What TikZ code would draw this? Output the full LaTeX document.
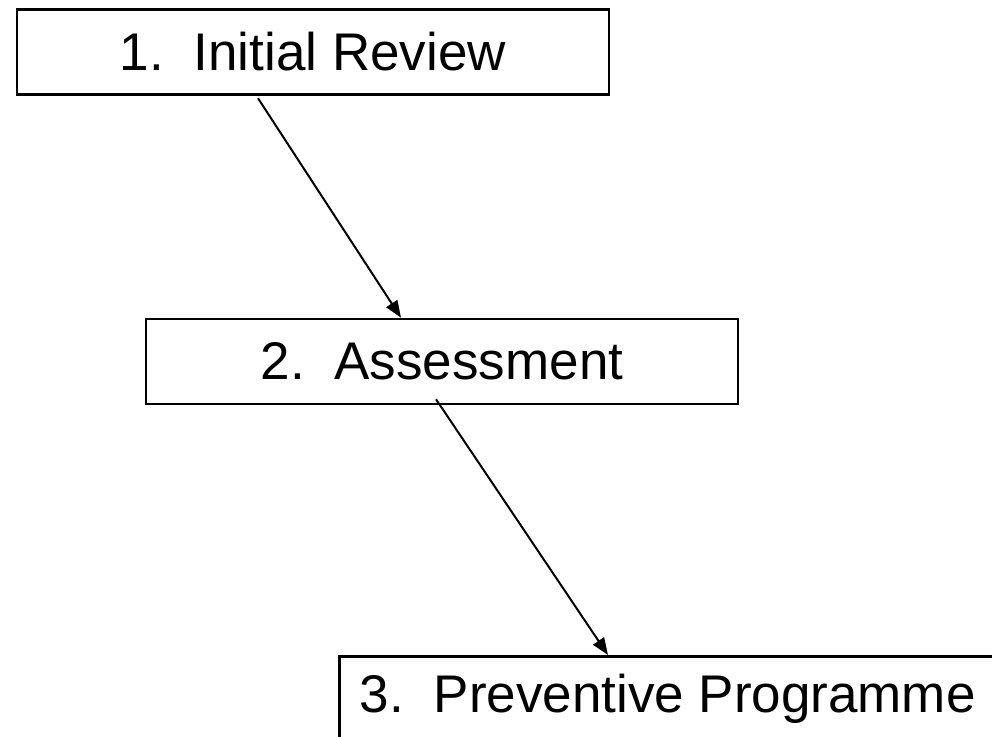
\documentclass[tikz,border=0pt]{standalone}
\usepackage{fontspec}
\setmainfont{Liberation Sans}
\usetikzlibrary{arrows.meta}
\tikzset{
  stepbox/.style={draw=black, line width=2.5pt, fill=white, inner sep=0pt,
    font=\fontsize{53}{60}\selectfont},
  arr/.style={draw=black, line width=2pt, -{Triangle[length=17pt,width=13pt]}}
}
\begin{document}
\begin{tikzpicture}[x=1pt,y=-1pt]
\clip (0,0) rectangle (992,736);
\fill[white] (0,0) rectangle (992,736);
\node[stepbox, minimum width=592pt, minimum height=85pt] (b1) at (313,52) {1.\hspace{0.56em}Initial Review};
\node[stepbox, minimum width=592pt, minimum height=85pt] (b2) at (442,361.5) {2.\hspace{0.56em}Assessment};
\node[stepbox, minimum width=657pt, minimum height=85pt, anchor=north west] (b3) at (338,655) {3.\hspace{0.56em}Preventive Programme};
\draw[arr] ([xshift=-55pt,yshift=-2.5pt]b1.south) -- ([xshift=-41pt]b2.north);
\draw[arr] ([xshift=-6pt,yshift=6pt]b2.south) -- ([xshift=270pt]b3.north west);
\end{tikzpicture}
\end{document}
